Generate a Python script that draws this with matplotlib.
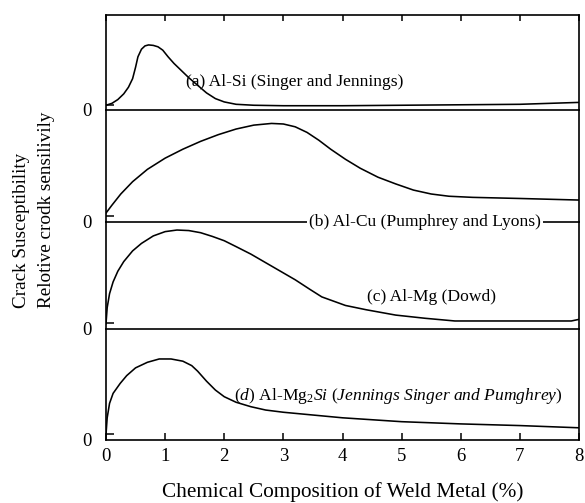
import matplotlib
matplotlib.use("Agg")
import matplotlib.pyplot as plt

plt.rcParams['font.family'] = ['Liberation Serif', 'DejaVu Serif']
plt.rcParams['mathtext.fontset'] = 'custom'
plt.rcParams['mathtext.rm'] = 'Liberation Serif'
plt.rcParams['mathtext.it'] = 'Liberation Serif:italic'

# ---- data (x: % alloy, y: relative sensitivity, fraction of panel height) ----
x_a = [0, 0.1, 0.2, 0.3, 0.38, 0.45, 0.5, 0.54, 0.6, 0.66, 0.72, 0.8, 0.88,
       0.96, 1.05, 1.15, 1.25, 1.4, 1.55, 1.7, 1.85, 2.0, 2.2, 2.5, 3.0, 4.0,
       5.0, 6.0, 7.0, 7.5, 8.0]
y_a = [0.05, 0.07, 0.11, 0.17, 0.24, 0.33, 0.45, 0.56, 0.64, 0.675, 0.685, 0.68,
       0.665, 0.63, 0.56, 0.49, 0.43, 0.34, 0.26, 0.18, 0.12, 0.085, 0.06, 0.05,
       0.045, 0.045, 0.05, 0.055, 0.06, 0.07, 0.08]

x_b = [0, 0.1, 0.25, 0.45, 0.7, 1.0, 1.3, 1.6, 1.9, 2.2, 2.5, 2.8, 3.0, 3.2,
       3.4, 3.6, 3.8, 4.05, 4.3, 4.6, 4.9, 5.2, 5.5, 5.8, 6.2, 7.0, 8.0]
y_b = [0.08, 0.15, 0.25, 0.36, 0.47, 0.57, 0.65, 0.72, 0.78, 0.83, 0.865, 0.88,
       0.875, 0.85, 0.80, 0.73, 0.65, 0.56, 0.48, 0.40, 0.34, 0.285, 0.25, 0.23,
       0.22, 0.21, 0.196]

x_c = [0, 0.02, 0.06, 0.12, 0.2, 0.3, 0.45, 0.6, 0.8, 1.0, 1.2, 1.4, 1.6, 1.8,
       2.0, 2.2, 2.45, 2.7, 2.95, 3.2, 3.45, 3.65, 3.85, 4.05, 4.4, 4.9, 5.4,
       5.9, 7.0, 7.87, 8.0]
y_c = [0.05, 0.20, 0.33, 0.44, 0.54, 0.63, 0.73, 0.80, 0.87, 0.91, 0.925, 0.92,
       0.90, 0.865, 0.825, 0.77, 0.70, 0.62, 0.54, 0.46, 0.37, 0.30, 0.26, 0.22,
       0.18, 0.13, 0.10, 0.075, 0.075, 0.075, 0.09]

x_d = [0, 0.02, 0.06, 0.12, 0.24, 0.35, 0.5, 0.7, 0.9, 1.1, 1.3, 1.45, 1.55,
       1.7, 1.85, 2.0, 2.2, 2.45, 2.7, 3.0, 3.5, 4.0, 5.0, 6.0, 7.0, 8.0]
y_d = [0.05, 0.20, 0.33, 0.42, 0.51, 0.58, 0.65, 0.70, 0.73, 0.73, 0.71, 0.67,
       0.62, 0.53, 0.45, 0.39, 0.34, 0.30, 0.27, 0.25, 0.225, 0.20, 0.165, 0.145,
       0.13, 0.11]

labels = ["(a) Al-Si (Singer and Jennings)",
          "(b) Al-Cu (Pumphrey and Lyons)",
          "(c) Al-Mg (Dowd)",
          r"($\it{d}$) Al-Mg$_2$$\it{Si}$ $\it{(Jennings\ Singer\ and\ Pumghrey)}$"]
x_ticks = [0, 1, 2, 3, 4, 5, 6, 7, 8]
ylabel1 = "Crack Susceptibility"
ylabel2 = "Relotive crodk sensilivily"
xlabel = "Chemical Composition of Weld Metal (%)"

series = [(x_a, y_a), (x_b, y_b), (x_c, y_c), (x_d, y_d)]

fig = plt.figure(figsize=(5.85, 5.03), dpi=100)
gs = fig.add_gridspec(4, 1, height_ratios=[95, 112, 107, 111], hspace=0,
                      left=106/585, right=579/585, bottom=1-440/503, top=1-15/503)
axes = [fig.add_subplot(gs[i]) for i in range(4)]

lw = 1.2
for i, ax in enumerate(axes):
    xs, ys = series[i]
    ax.plot(xs, ys, color='black', lw=1.15, solid_joinstyle='round')
    ax.set_xlim(0, 8)
    ax.set_ylim(0, 1)
    ax.patch.set_visible(False)
    for s in ax.spines.values():
        s.set_linewidth(lw)
    ax.spines['top'].set_visible(i == 0)
    ax.set_yticks([0])
    ax.set_yticklabels(['0'])
    ax.set_yticks([0.055], minor=True)
    ax.tick_params(axis='y', which='major', length=0, pad=10, labelsize=13.5)
    ax.tick_params(axis='y', which='minor', direction='in', length=6, width=1.1)
    ax.set_xticks(x_ticks)
    if i == 0:
        ax.tick_params(axis='x', which='major', top=True, bottom=False,
                       direction='in', length=4, width=1.1, labelbottom=False)
    elif i == 3:
        ax.tick_params(axis='x', which='major', top=False, bottom=True,
                       direction='in', length=5, width=1.1, labelsize=13.5, pad=6)
    else:
        ax.tick_params(axis='x', which='major', top=False, bottom=False,
                       labelbottom=False)

axes[0].text(1.35, 0.30, labels[0], fontsize=12.6, ha='left', va='center')
axes[1].text(5.39, 0.0, labels[1], fontsize=12.6, ha='center', va='center',
             bbox=dict(facecolor='white', edgecolor='none', pad=1.5), zorder=5,
             clip_on=False)
axes[2].text(5.51, 0.30, labels[2], fontsize=12.6, ha='center', va='center')
axes[3].text(2.17, 0.40, labels[3], fontsize=12.6, ha='left', va='center')

fig.text(22/585, 1-308/503, ylabel1, rotation=90, fontsize=13.8,
         ha='center', va='bottom')
fig.text(47/585, 1-308/503, ylabel2, rotation=90, fontsize=13.8,
         ha='center', va='bottom')
fig.text(343/585, 1-492/503, xlabel, fontsize=15.3, ha='center', va='center')

fig.savefig("out.png", dpi=100)
